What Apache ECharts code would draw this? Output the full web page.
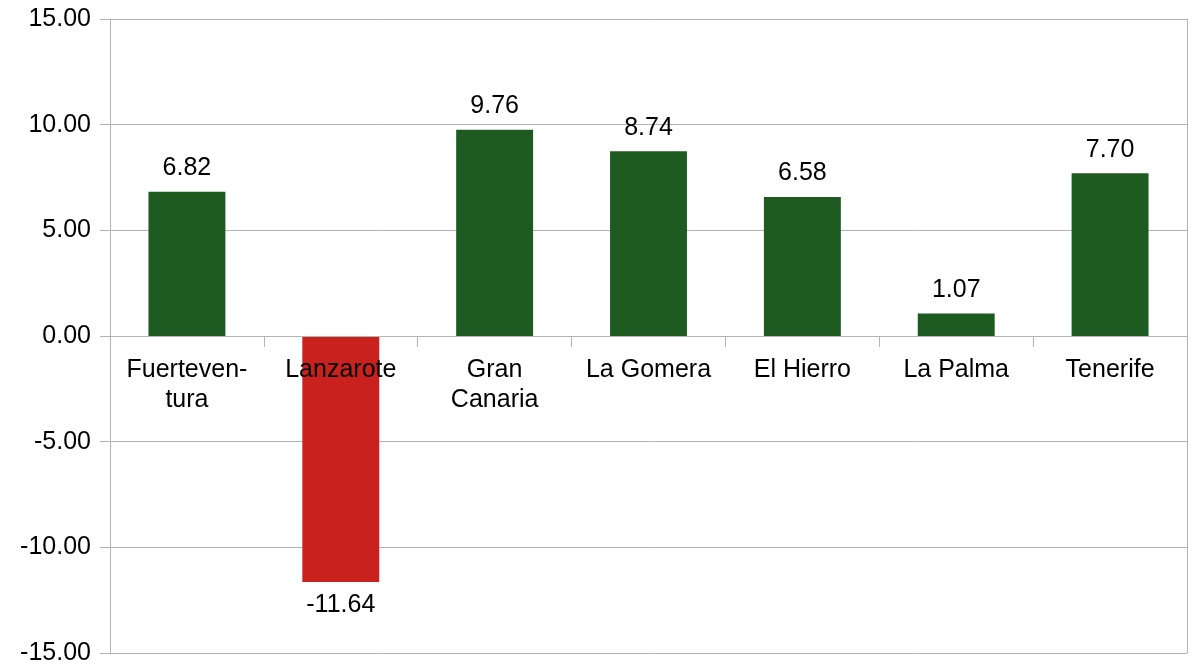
<!DOCTYPE html>
<html>
<head>
<meta charset="utf-8">
<script src="https://cdn.jsdelivr.net/npm/echarts@6/dist/echarts.min.js"></script>
<style>html,body{margin:0;padding:0;background:#fff}#c{width:1196px;height:668px}</style>
</head>
<body>
<div id="c"></div>
<script>
const categories = ["Fuerteven-\ntura", "Lanzarote", "Gran\nCanaria", "La Gomera", "El Hierro", "La Palma", "Tenerife"];
const values = [6.82, -11.64, 9.76, 8.74, 6.58, 1.07, 7.70];
const yMin = -15, yMax = 15, yStep = 5;

const W = 1196, H = 668;
const gTop = 19, gBottom = 15;
const plotH = H - gTop - gBottom;
const zeroOffset = -plotH * (0 - yMin) / (yMax - yMin);

const chart = echarts.init(document.getElementById('c'), null, {renderer: 'canvas'});
const font = "Liberation Sans";
chart.setOption({
  animation: false,
  grid: {left: 110, right: 9, top: gTop, bottom: gBottom, containLabel: false, outerBoundsMode: 'none'},
  xAxis: {
    type: 'category',
    data: categories,
    position: 'bottom',
    offset: zeroOffset,
    z: 5,
    axisLine: {onZero: false, lineStyle: {color: '#b3b3b3', width: 1}},
    axisTick: {show: true, length: 11, interval: 0, lineStyle: {color: '#b3b3b3'}},
    axisLabel: {color: '#000', fontFamily: font, fontSize: 25, margin: 19, lineHeight: 30, interval: 0, hideOverlap: false},
    splitLine: {show: false}
  },
  yAxis: [{
    type: 'value',
    min: yMin, max: yMax, interval: yStep,
    axisLine: {show: true, lineStyle: {color: '#b3b3b3'}},
    axisTick: {show: true, length: 10, lineStyle: {color: '#b3b3b3'}},
    axisLabel: {color: '#000', fontFamily: font, fontSize: 25, margin: 19,
      formatter: v => v.toFixed(2)},
    splitLine: {show: true, lineStyle: {color: '#b3b3b3', width: 1}}
  }, {
    type: 'value',
    position: 'right',
    min: yMin, max: yMax, interval: yStep,
    axisLine: {show: true, lineStyle: {color: '#b3b3b3'}},
    axisTick: {show: false},
    axisLabel: {show: false},
    splitLine: {show: false}
  }],
  series: [{
    type: 'bar',
    data: values,
    barWidth: '50%',
    itemStyle: {color: p => p.value < 0 ? '#c9211e' : '#1e5b21'},
    label: {
      show: true, position: 'outside', distance: 11,
      color: '#000', fontFamily: font, fontSize: 25,
      formatter: p => p.value.toFixed(2)
    }
  }]
});
</script>
</body>
</html>
